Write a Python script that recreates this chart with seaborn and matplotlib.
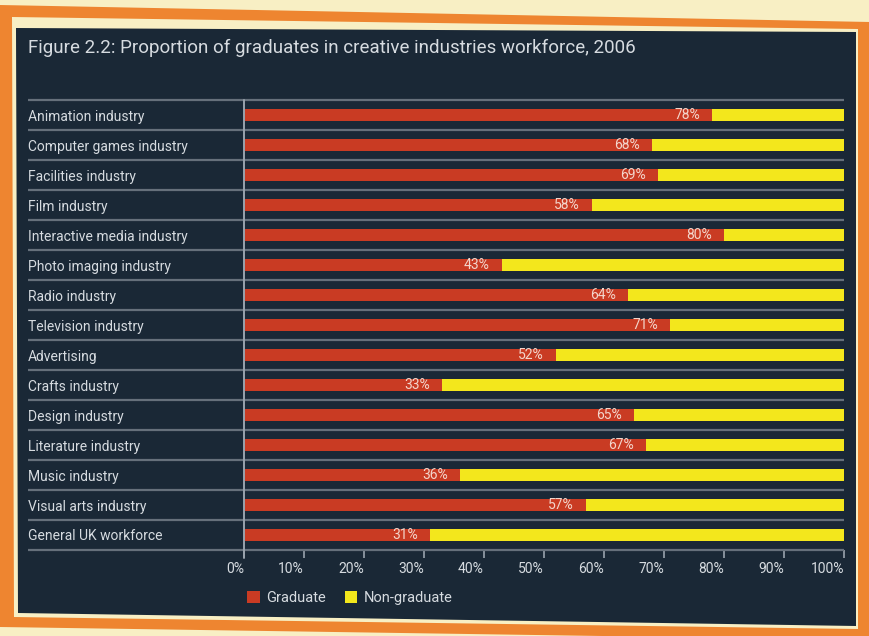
import matplotlib
matplotlib.use("Agg")
import matplotlib.pyplot as plt
import seaborn as sns
import pandas as pd
from matplotlib.patches import Polygon, Patch

categories = ["Animation industry", "Computer games industry", "Facilities industry",
              "Film industry", "Interactive media industry", "Photo imaging industry",
              "Radio industry", "Television industry", "Advertising", "Crafts industry",
              "Design industry", "Literature industry", "Music industry",
              "Visual arts industry", "General UK workforce"]
graduate = [78, 68, 69, 58, 80, 43, 64, 71, 52, 33, 65, 67, 36, 57, 31]
non_graduate = [22, 32, 31, 42, 20, 57, 36, 29, 48, 67, 35, 33, 64, 43, 69]
x_ticks = [0, 10, 20, 30, 40, 50, 60, 70, 80, 90, 100]
title = "Figure 2.2: Proportion of graduates in creative industries workforce, 2006"

RED = "#c93b23"
YELLOW = "#f3e71c"
PANEL = "#1a2836"
TEXT = "#d6dbe0"
LINE = "#66707b"
ORANGE = "#ee8530"
PALE = "#f8efc4"

sns.set_theme(style="white")
plt.rcParams["font.family"] = ["Roboto", "DejaVu Sans"]

W, H = 870, 636
fig = plt.figure(figsize=(W / 100, H / 100), dpi=100)
fig.patch.set_facecolor(PALE)

def px(points):
    return [(x / W, 1 - y / H) for x, y in points]

fig.patches.append(Polygon(px([(0, 5), (870, 22), (870, 640), (0, 627)]),
                           closed=True, transform=fig.transFigure, facecolor=ORANGE,
                           edgecolor="none", zorder=0))
fig.patches.append(Polygon(px([(12, 17), (858, 29), (858, 629), (14, 617)]),
                           closed=True, transform=fig.transFigure, facecolor=PALE,
                           edgecolor="none", zorder=0))
fig.patches.append(Polygon(px([(16, 28), (856, 32), (856, 626), (18, 613)]),
                           closed=True, transform=fig.transFigure, facecolor=PANEL,
                           edgecolor="none", zorder=0))

ax = fig.add_axes([244 / W, 1 - 550 / H, 600 / W, 450 / H])
ax.set_zorder(2)
ax.set_facecolor("none")

df = pd.DataFrame({"category": categories, "graduate": graduate,
                   "non_graduate": non_graduate})
df["total"] = df["graduate"] + df["non_graduate"]

sns.barplot(data=df, x="total", y="category", orient="h", color=YELLOW,
            saturation=1, width=0.42, ax=ax, zorder=3, linewidth=0, edgecolor="none")
sns.barplot(data=df, x="graduate", y="category", orient="h", color=RED,
            saturation=1, width=0.42, ax=ax, zorder=4, linewidth=0, edgecolor="none")

ax.set_xlim(0, 100)
ax.set_ylim(len(categories) - 0.5, -0.5)
ax.set_xlabel("")
ax.set_ylabel("")

# row separators (extend into label area)
for k in range(len(categories) + 1):
    ax.plot([-36, 100], [k - 0.5, k - 0.5], color=LINE, lw=1.6,
            clip_on=False, zorder=2, solid_capstyle="butt")
ax.plot([0, 0], [-0.5, 14.5 + 0.25], color="#9aa3ad", lw=1.4, clip_on=False, zorder=5)

for sp in ax.spines.values():
    sp.set_visible(False)

ax.set_xticks(x_ticks)
ax.set_xticklabels([f"{t}%" for t in x_ticks], color=TEXT, fontsize=10)
for lab in ax.get_xticklabels():
    lab.set_ha("right")
ax.tick_params(axis="x", direction="out", length=5.5, width=1.2, color="#9aa3ad",
               pad=3, bottom=True)
ax.tick_params(axis="y", length=0, pad=155.5, labelsize=10, labelcolor=TEXT)
for lab in ax.get_yticklabels():
    lab.set_ha("left")

for i, v in enumerate(graduate):
    ax.text(v - 2, i, f"{v}%", ha="right", va="center", color="#f3d6cc",
            fontsize=10, zorder=6)

fig.text(28 / W, 1 - 48 / H, title, color=TEXT, fontsize=13.5, ha="left", va="center")

handles = [Patch(facecolor=RED, edgecolor="none", label="Graduate"),
           Patch(facecolor=YELLOW, edgecolor="none", label="Non-graduate")]
leg = fig.legend(handles=handles, loc="center left",
                 bbox_to_anchor=(234 / W, 1 - 598 / H), ncol=2, frameon=False,
                 handlelength=0.85, handleheight=0.85, handletextpad=0.45,
                 columnspacing=1.3, fontsize=10.5)
for t in leg.get_texts():
    t.set_color(TEXT)

fig.savefig("out.png", dpi=100, facecolor=fig.get_facecolor())
